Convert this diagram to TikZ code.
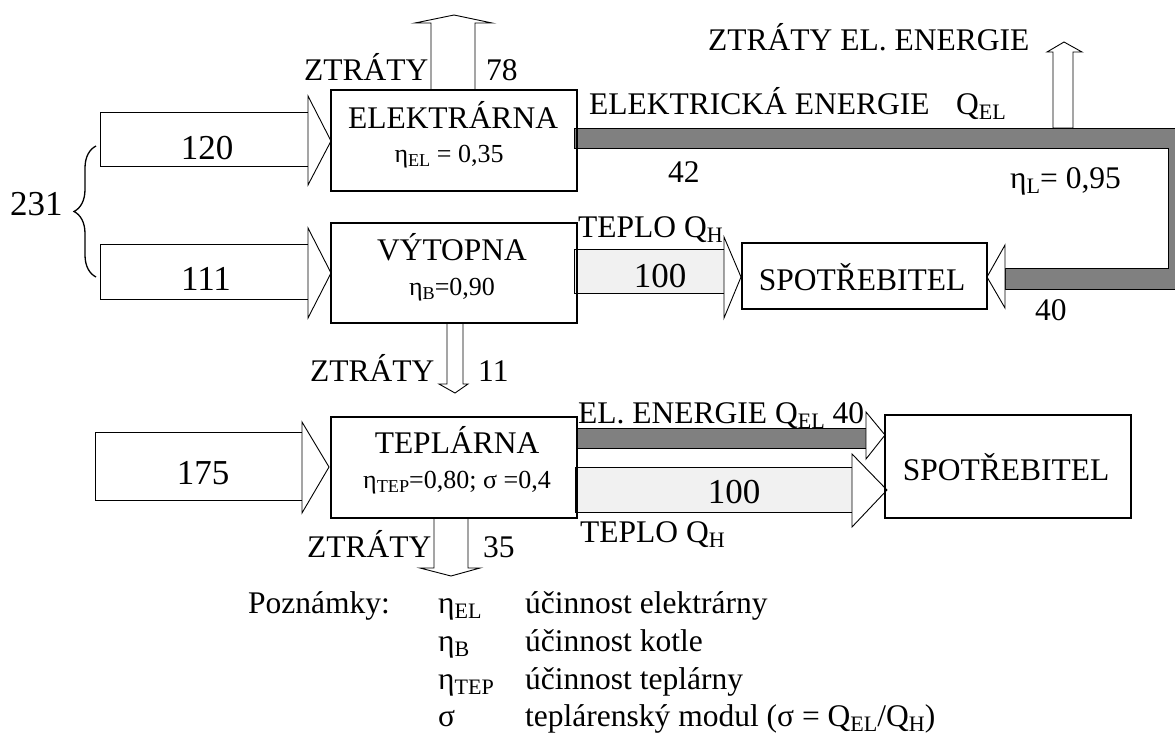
\documentclass[tikz,border=0pt]{standalone}
\usepackage{fontspec}
\setmainfont{Liberation Serif}
\usepackage{tikz}
\usetikzlibrary{decorations.pathreplacing}
\definecolor{bandgray}{RGB}{128,128,128}
\definecolor{heatgray}{RGB}{241,241,241}
\newcommand{\sbs}[1]{\raisebox{-0.18em}{\scalebox{0.7}{#1}}}
\newcommand{\lbfont}{\fontsize{31.5}{36}\selectfont}
\newcommand{\nmfont}{\fontsize{35}{40}\selectfont}
\newcommand{\smfont}{\fontsize{26}{30}\selectfont}

\begin{document}
\begin{tikzpicture}[x=1pt,y=-1pt,
    plant/.style={draw, line width=2.5pt, inner sep=0pt},
    thinarr/.style={draw, line width=0.9pt, fill=white},
    band/.style={draw, line width=0.9pt, fill=bandgray},
    heat/.style={draw, line width=0.9pt, fill=heatgray},
    lbl/.style={font=\lbfont, inner sep=0pt, anchor=base west},
    num/.style={font=\nmfont, inner sep=0pt, anchor=base}]
    \useasboundingbox (0,0) rectangle (1175,736);
    % vstupy paliva
    \draw[thinarr] (100,112) rectangle (308,166);
    \draw[thinarr] (308,96) -- (331,141) -- (308,185) -- cycle;
    \draw[thinarr] (100,244) rectangle (308,299);
    \draw[thinarr] (308,228) -- (331,273) -- (308,318) -- cycle;
    \draw[thinarr] (95,432) rectangle (302,500);
    \draw[thinarr] (302,422) -- (329,467) -- (302,513) -- cycle;
    \node[num] at (207,159) {120};
    \node[num] at (206,290) {111};
    \node[num] at (203,484) {175};
    \draw[line width=1.3pt, decorate, decoration={brace, amplitude=22pt}] (96,277) -- (96,146);
    \node[num, anchor=base west] at (10,215) {231};
    % ztraty
    \draw[thinarr] (431,90) -- (431,23) -- (415,23) -- (454,15) -- (492,23) -- (475,23) -- (475,90) -- cycle;
    \draw[thinarr] (447,323) -- (447,384) -- (439,384) -- (455,393) -- (468,384) -- (463,384) -- (463,323) -- cycle;
    \draw[thinarr] (434,518) -- (434,568) -- (420,568) -- (451,576) -- (480,568) -- (468,568) -- (468,518) -- cycle;
    \draw[thinarr] (1053,128) -- (1053,52) -- (1047,52) -- (1064,42) -- (1082,52) -- (1073,52) -- (1073,128) -- cycle;
    \node[lbl] at (304,80) {ZTRÁTY};
    \node[lbl] at (486,80) {78};
    \node[lbl] at (310,381) {ZTRÁTY};
    \node[lbl] at (478,381) {11};
    \node[lbl] at (307,557) {ZTRÁTY};
    \node[lbl] at (483,557) {35};
    \node[lbl] at (708,50) {ZTRÁTY EL. ENERGIE};
    % elektricka energie
    \draw[band] (574,128) -- (1190,128) -- (1190,289) -- (1005,289) -- (1005,268) -- (1168,268) -- (1168,148) -- (574,148) -- cycle;
    \draw[thinarr] (1005,245) -- (987,277) -- (1005,308) -- cycle;
    \node[lbl] at (589,114) {ELEKTRICKÁ ENERGIE};
    \node[lbl] at (956,114) {Q\sbs{EL}};
    \node[lbl] at (668,182) {42};
    \node[lbl] at (1010,188) {η\sbs{L}= 0,95};
    \node[lbl] at (1035,320) {40};
    % teplo
    \draw[heat] (574,249) rectangle (724,293);
    \draw[thinarr] (724,237) -- (741,277) -- (724,318) -- cycle;
    \node[lbl] at (578,237) {TEPLO Q\sbs{H}};
    \node[num] at (660,287) {100};
    % teplarna
    \draw[band] (577,428) rectangle (866,448);
    \draw[thinarr] (866,412) -- (885,435) -- (866,459) -- cycle;
    \draw[heat] (575,467) rectangle (852,512);
    \draw[thinarr] (852,454) -- (887,490) -- (852,527) -- cycle;
    \node[lbl] at (578,423) {EL. ENERGIE Q\sbs{EL} 40};
    \node[num] at (734,503) {100};
    \node[lbl] at (580,542) {TEPLO Q\sbs{H}};
    % bloky
    \node[plant, minimum width=246, minimum height=101] (elek) at (454,140.5) {};
    \node[plant, minimum width=246, minimum height=100] (vyt) at (454,273) {};
    \node[plant, minimum width=246, minimum height=101] (tep) at (454,467.5) {};
    \node[plant, minimum width=245, minimum height=66] (spot1) at (864.5,276) {};
    \node[plant, minimum width=246, minimum height=103] (spot2) at (1008,466.5) {};
    \node[lbl, anchor=base] at (453,128) {ELEKTRÁRNA};
    \node[lbl, anchor=base, font=\smfont] at (449,162) {η\sbs{EL} = 0,35};
    \node[lbl, anchor=base] at (452,260) {VÝTOPNA};
    \node[lbl, anchor=base, font=\smfont] at (452,295) {η\sbs{B}=0,90};
    \node[lbl, anchor=base] at (457,453) {TEPLÁRNA};
    \node[lbl, anchor=base, font=\smfont] at (457,488) {η\sbs{TEP}=0,80; σ =0,4};
    \node[lbl, anchor=base] at (862,290) {SPOTŘEBITEL};
    \node[lbl, anchor=base] at (1006,480) {SPOTŘEBITEL};
    % poznamky
    \node[lbl] at (248,613) {Poznámky:};
    \node[lbl] at (438,613) {η\sbs{EL}};
    \node[lbl] at (525,613) {účinnost elektrárny};
    \node[lbl] at (438,651) {η\sbs{B}};
    \node[lbl] at (525,651) {účinnost kotle};
    \node[lbl] at (438,689) {η\sbs{TEP}};
    \node[lbl] at (525,689) {účinnost teplárny};
    \node[lbl] at (438,726) {σ};
    \node[lbl] at (525,726) {teplárenský modul (σ = Q\sbs{EL}/Q\sbs{H})};
\end{tikzpicture}
\end{document}
